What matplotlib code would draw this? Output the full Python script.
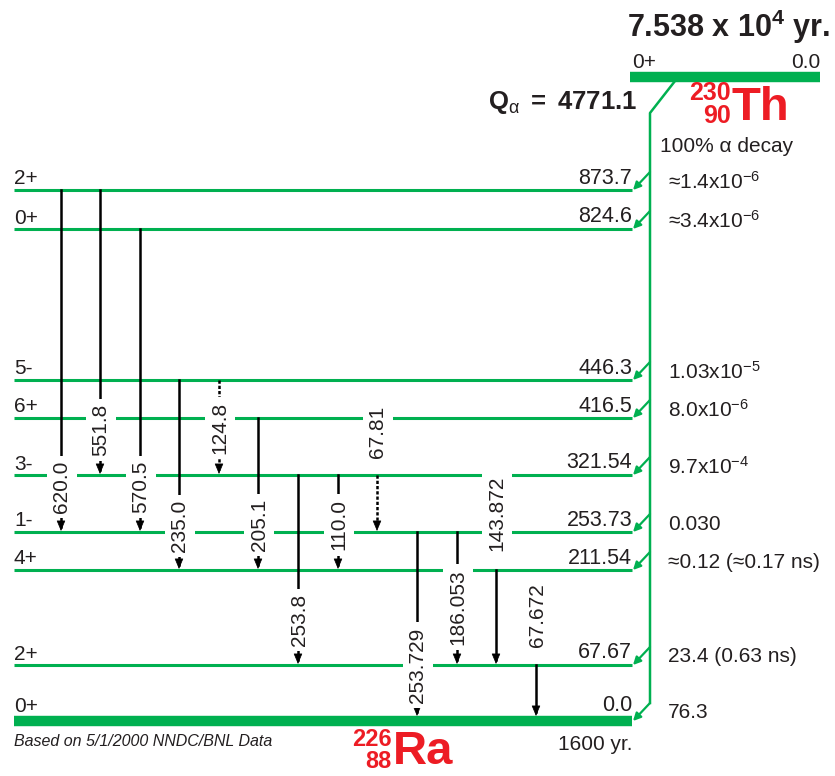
import matplotlib.pyplot as plt

plt.rcParams['font.family'] = ['Liberation Sans', 'DejaVu Sans']
plt.rcParams['mathtext.fontset'] = 'custom'
plt.rcParams['mathtext.rm'] = 'Liberation Sans'
plt.rcParams['mathtext.it'] = 'Liberation Sans:italic'
plt.rcParams['mathtext.bf'] = 'Liberation Sans:bold'

# levels of 226Ra fed by alpha decay of 230Th
level_energy = [873.7, 824.6, 446.3, 416.5, 321.54, 253.73, 211.54, 67.67, 0.0]
level_label = ['873.7', '824.6', '446.3', '416.5', '321.54', '253.73', '211.54', '67.67', '0.0']
level_spin = ['2+', '0+', '5-', '6+', '3-', '1-', '4+', '2+', '0+']
alpha_branch = [r'≈1.4x10$^{-6}$', r'≈3.4x10$^{-6}$', r'1.03x10$^{-5}$', r'8.0x10$^{-6}$',
                r'9.7x10$^{-4}$', '0.030', '≈0.12 (≈0.17 ns)', '23.4 (0.63 ns)', '76.3']

# gamma transitions
gamma_label = ['620.0', '551.8', '570.5', '235.0', '124.8', '205.1', '253.8',
               '110.0', '67.81', '253.729', '186.053', '143.872', '67.672']
gamma_from = [873.7, 873.7, 824.6, 446.3, 446.3, 416.5, 321.54,
              321.54, 321.54, 253.73, 253.73, 211.54, 67.67]
gamma_to = [253.73, 321.54, 253.73, 211.54, 321.54, 211.54, 67.67,
            211.54, 253.73, 0.0, 67.67, 67.67, 0.0]
gamma_dotted = [False, False, False, False, True, False, False,
                False, True, False, False, False, False]

# schematic layout (pixel rows / columns of the drawing)
level_y = [190, 229, 380, 418, 475, 532, 570, 665, 721]
gamma_x = [61, 100, 140, 179, 219, 258, 298, 338, 377, 417, 457, 496, 536]
gamma_text_y = [487, 430, 487, 526, 428, 525, 620, 525, 432, 665, 607, 513, 615]

green = '#00B050'
red = '#ED1C24'
ink = '#231F20'
ypos = dict(zip(level_energy, level_y))

fig = plt.figure(figsize=(8.35, 7.76), dpi=100)
ax = fig.add_axes([0, 0, 1, 1])
ax.set_xlim(0, 835)
ax.set_ylim(776, 0)
ax.axis('off')

x0, x1, xv = 14, 632, 650
for e, y, lab, spin, br in zip(level_energy, level_y, level_label, level_spin, alpha_branch):
    ax.plot([x0, x1], [y, y], color=green, lw=7.5 if e == 0 else 2.2, solid_capstyle='butt', zorder=1)
    off = 5 if e == 0 else 1.5
    ax.text(x0, y - off, spin, fontsize=15, color=ink, va='bottom', ha='left')
    ax.text(x1, y - off, lab, fontsize=15.5, color=ink, va='bottom', ha='right')
    ax.text(668, y - 8, br, fontsize=15, color=ink, va='center', ha='left')
    ax.annotate('', xy=(x1 + 1, y), xytext=(xv, y - 18),
                arrowprops=dict(arrowstyle='-|>,head_length=0.5,head_width=0.25', color=green,
                                lw=1.6, shrinkA=0, shrinkB=0, mutation_scale=9))

# parent level and alpha feeding line
ax.plot([630, 820], [77, 77], color=green, lw=7.5, solid_capstyle='butt')
ax.plot([675, xv, xv], [81, 113, level_y[-1] - 18], color=green, lw=1.8)
ax.text(632, 68, '0+', fontsize=15, color=ink, va='baseline', ha='left')
ax.text(820, 68, '0.0', fontsize=15, color=ink, va='baseline', ha='right')

# gamma arrows
for x, e0, e1, dot, lab, ty in zip(gamma_x, gamma_from, gamma_to, gamma_dotted, gamma_label, gamma_text_y):
    ya, yb = ypos[e0], ypos[e1] - (5 if e1 == 0 else 1)
    ax.plot([x, x], [ya, yb - 4], color='k', lw=1.8,
            ls=(0, (1.3, 0.8)) if dot else '-', zorder=2)
    ax.annotate('', xy=(x, yb), xytext=(x, yb - 6),
                arrowprops=dict(arrowstyle='-|>,head_length=0.6,head_width=0.25', color='k',
                                lw=0.5, shrinkA=0, shrinkB=0, mutation_scale=11), zorder=3)
    ax.text(x + 1, ty, lab, fontsize=15, color=ink, rotation=90, ha='center', va='center',
            rotation_mode='anchor', zorder=4,
            bbox=dict(boxstyle='square,pad=0.25', fc='white', ec='none'))

# titles and nuclide labels
ax.text(830, 37, r'$\mathbf{7.538\ x\ 10^{4}\ yr.}$', fontsize=22, color=ink, ha='right', va='baseline')
ax.text(637, 103, r'$\mathbf{Q}_{\mathrm{α}}\mathbf{\ =\ 4771.1}$', fontsize=18.5, color=ink,
        ha='right', va='center')
ax.text(731, 93, '230', fontsize=18, color=red, weight='bold', ha='right', va='center')
ax.text(731, 116, '90', fontsize=18, color=red, weight='bold', ha='right', va='center')
ax.text(731, 108, 'Th', fontsize=34, color=red, weight='bold', ha='left', va='center')
ax.text(660, 147, '100% α decay', fontsize=15, color=ink, ha='left', va='center')

ax.text(392, 740, '226', fontsize=17, color=red, weight='bold', ha='right', va='center')
ax.text(392, 761, '88', fontsize=17, color=red, weight='bold', ha='right', va='center')
ax.text(393, 752, 'Ra', fontsize=34, color=red, weight='bold', ha='left', va='center')
ax.text(14, 741, 'Based on 5/1/2000 NNDC/BNL Data', fontsize=11.5, style='italic', color=ink,
        ha='left', va='center')
ax.text(632, 745, '1600 yr.', fontsize=15, color=ink, ha='right', va='center')

fig.savefig('out.png', dpi=100)
